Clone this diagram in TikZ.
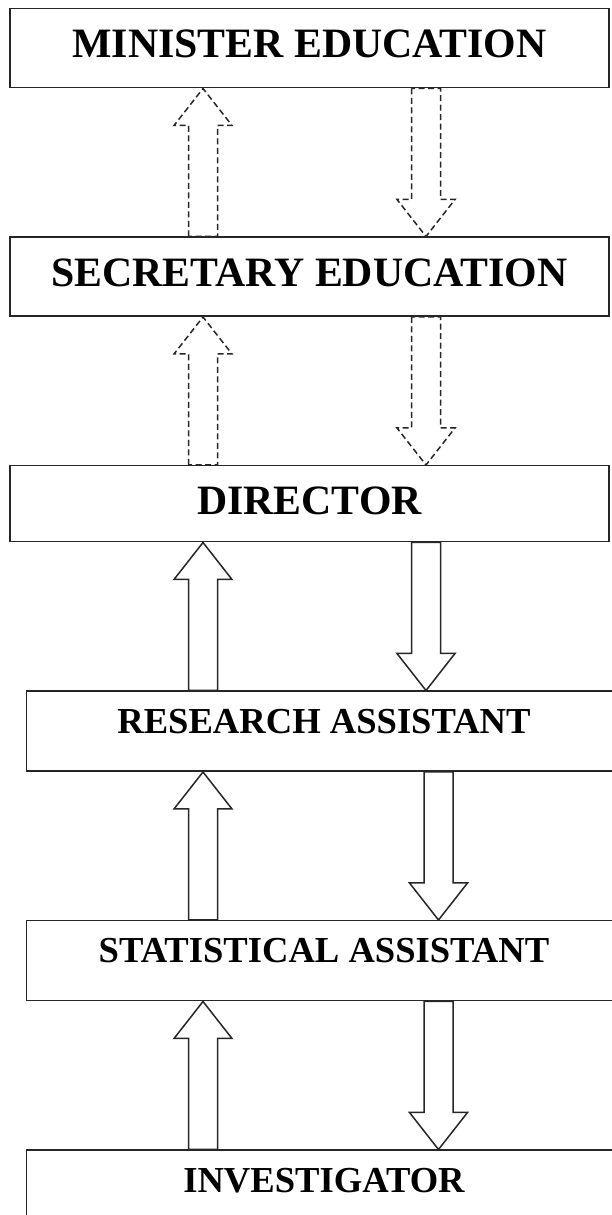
\documentclass[tikz,border=0pt]{standalone}
\usepackage{fontspec}
\setmainfont{Liberation Serif}
\usetikzlibrary{positioning,calc}
\colorlet{lineclr}{black!85}
\tikzset{
	chart/.style={x=1pt,y=1pt,node distance=148pt,line width=1.5pt},
	post/.style={rectangle,draw=lineclr,inner sep=0pt,minimum width=599pt,
		text height=49pt,text depth=30pt,font=\fontsize{41.8}{44}\selectfont\bfseries},
	staff/.style={post,minimum width=595pt,text height=42pt,text depth=38pt,
		font=\fontsize{36.6}{40}\selectfont\bfseries},
	block/.style={draw=lineclr,to path={let \p1=(\tikztostart), \p2=(\tikztotarget),
		\p3=($(\tikztotarget)!37pt!(\tikztostart)$) in
		(\x1-14.5pt,\y1) -- (\x1-14.5pt,\y3) -- (\x1-29pt,\y3) -- (\x2,\y2)
		-- (\x1+29pt,\y3) -- (\x1+14.5pt,\y3) -- (\x1+14.5pt,\y1) -- cycle}},
	block dashed/.style={block,dash pattern=on 6pt off 3.5pt}
}
\begin{document}
\begin{tikzpicture}[chart]
	\useasboundingbox (0,0) rectangle (612,1215);
	\clip (0,0) rectangle (612,1215);

	\node[post] (min) at (309.5,1207) [anchor=north] {MINISTER EDUCATION};
	\node[post] (sec) [below=of min] {SECRETARY EDUCATION};
	\node[post,text depth=27pt] (dir) [below=of sec] {DIRECTOR};
	\node[staff] (res) [below=of dir,xshift=14.5pt] {RESEARCH ASSISTANT};
	\node[staff] (stat) [below=of res] {STATISTICAL ASSISTANT};
	\node[staff] (inv) [below=of stat] {INVESTIGATOR};

	% arrow columns
	\coordinate (up) at (203,0);
	\coordinate (down) at (426,0);
	\coordinate (down2) at (438.5,0);

	\draw[block dashed] (up |- sec.north) to (up |- min.south);
	\draw[block dashed] (down |- min.south) to (down |- sec.north);
	\draw[block dashed] (up |- dir.north) to (up |- sec.south);
	\draw[block dashed] (down |- sec.south) to (down |- dir.north);

	\draw[block] (up |- res.north) to (up |- dir.south);
	\draw[block] (down |- dir.south) to (down |- res.north);
	\draw[block] (up |- stat.north) to (up |- res.south);
	\draw[block] (down2 |- res.south) to (down2 |- stat.north);
	\draw[block] (up |- inv.north) to (up |- stat.south);
	\draw[block] (down2 |- stat.south) to (down2 |- inv.north);
\end{tikzpicture}
\end{document}
